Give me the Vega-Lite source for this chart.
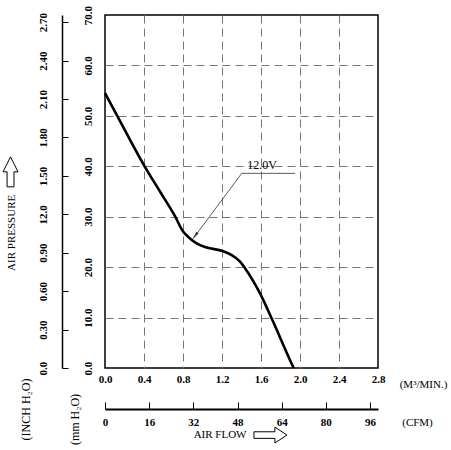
{
  "$schema": "https://vega.github.io/schema/vega-lite/v6.json",
  "width": 273,
  "height": 353,
  "autosize": "none",
  "padding": {"left": 105, "top": 15, "right": 73, "bottom": 82},
  "background": "white",
  "config": {
    "font": "Liberation Serif",
    "view": {"stroke": "black", "strokeWidth": 1.5},
    "axis": {"labelFont": "Liberation Serif", "labelFontSize": 11, "labelFontWeight": "bold", "labelColor": "black", "titleFont": "Liberation Serif", "titleFontSize": 11, "titleFontWeight": "normal", "titleColor": "black", "labelOverlap": false, "labelFlush": false}
  },
  "layer": [
    {
      "layer": [
        {
          "data": {"values": [
            {"x": 0, "y": 54.5},
            {"x": 0.12, "y": 50.2},
            {"x": 0.403, "y": 40.1},
            {"x": 0.564, "y": 35.0},
            {"x": 0.718, "y": 30.1},
            {"x": 0.803, "y": 27.0},
            {"x": 0.872, "y": 25.7},
            {"x": 0.94, "y": 24.7},
            {"x": 1.043, "y": 23.9},
            {"x": 1.207, "y": 23.2},
            {"x": 1.30, "y": 22.4},
            {"x": 1.385, "y": 21.1},
            {"x": 1.436, "y": 19.8},
            {"x": 1.59, "y": 14.8},
            {"x": 1.71, "y": 9.8},
            {"x": 1.897, "y": 1.6},
            {"x": 1.935, "y": 0}
          ]},
          "mark": {"type": "line", "color": "black", "strokeWidth": 2.6, "interpolate": "monotone"},
          "encoding": {
            "x": {"field": "x", "type": "quantitative", "scale": {"domain": [0, 2.8], "nice": false, "zero": false},
              "axis": {"orient": "bottom", "values": [0, 0.4, 0.8, 1.2, 1.6, 2.0, 2.4, 2.8], "tickCount": 8, "format": ".1f", "labelPadding": 5, "ticks": false, "domain": false,
                "grid": true, "gridDash": [8, 5], "gridColor": "#777", "gridWidth": 1,
                "gridOpacity": {"condition": {"test": "datum.value <= 0.001 || datum.value >= 2.799", "value": 0}, "value": 1},
                "title": "(M³/MIN.)", "titleX": 318, "titleY": 16, "titleAlign": "center", "titleBaseline": "middle"}},
            "y": {"field": "y", "type": "quantitative", "scale": {"domain": [0, 70], "nice": false, "zero": false},
              "axis": {"orient": "left", "values": [0, 10, 20, 30, 40, 50, 60, 70], "tickCount": 8, "format": ".1f", "labelAngle": 270, "labelAlign": "center", "labelBaseline": "middle", "labelPadding": 17, "ticks": false, "domain": false,
                "grid": true, "gridDash": [8, 5], "gridColor": "#777", "gridWidth": 1,
                "gridOpacity": {"condition": {"test": "datum.value <= 0.001 || datum.value >= 69.99", "value": 0}, "value": 1},
                "title": "(mm  H₂O)", "titleFontSize": 12, "titleAngle": 270, "titleX": -31, "titleY": 404, "titleAlign": "center", "titleBaseline": "middle"}}
          }
        },
        {
          "data": {"values": [
            {"x": 0.906, "y": 25.7, "o": 1},
            {"x": 1.402, "y": 38.6, "o": 2},
            {"x": 1.949, "y": 38.6, "o": 3}
          ]},
          "mark": {"type": "line", "color": "#333", "strokeWidth": 0.8},
          "encoding": {
            "x": {"field": "x", "type": "quantitative"},
            "y": {"field": "y", "type": "quantitative"},
            "order": {"field": "o", "type": "quantitative"}
          }
        },
        {
          "data": {"values": [{"x": 0.924, "y": 26.2}]},
          "mark": {"type": "point", "shape": "M 0 -1 L 0.35 1 L -0.35 1 Z", "size": 64, "angle": 217, "filled": true, "color": "#333", "opacity": 1},
          "encoding": {
            "x": {"field": "x", "type": "quantitative"},
            "y": {"field": "y", "type": "quantitative"}
          }
        },
        {
          "data": {"values": [{"x": 1.61, "y": 40.3, "t": "12.0V"}]},
          "mark": {"type": "text", "font": "Liberation Serif", "fontSize": 12, "color": "black", "align": "center", "baseline": "middle"},
          "encoding": {
            "x": {"field": "x", "type": "quantitative"},
            "y": {"field": "y", "type": "quantitative"},
            "text": {"field": "t"}
          }
        },
        {
          "data": {"values": [{"x": 1.18, "y": -13.3, "t": "AIR FLOW"}]},
          "mark": {"type": "text", "font": "Liberation Serif", "fontSize": 11, "color": "black", "align": "center", "baseline": "middle"},
          "encoding": {
            "x": {"field": "x", "type": "quantitative"},
            "y": {"field": "y", "type": "quantitative"},
            "text": {"field": "t"}
          }
        },
        {
          "data": {"values": [{"x": -0.954, "y": 26.8, "t": "AIR PRESSURE"}]},
          "mark": {"type": "text", "font": "Liberation Serif", "fontSize": 11, "color": "black", "align": "center", "baseline": "middle", "angle": 270},
          "encoding": {
            "x": {"field": "x", "type": "quantitative"},
            "y": {"field": "y", "type": "quantitative"},
            "text": {"field": "t"}
          }
        },
        {
          "data": {"values": [{"x": -0.969, "y": 38.9}]},
          "mark": {"type": "point", "shape": "M -0.23 1 L -0.23 0 L -0.5 0 L 0 -1 L 0.5 0 L 0.23 0 L 0.23 1 Z", "size": 900, "filled": false, "fill": "white", "stroke": "black", "strokeWidth": 1, "opacity": 1},
          "encoding": {
            "x": {"field": "x", "type": "quantitative"},
            "y": {"field": "y", "type": "quantitative"}
          }
        },
        {
          "data": {"values": [{"x": 1.697, "y": -13.3}]},
          "mark": {"type": "point", "shape": "M -1 -0.2 L 0.27 -0.2 L 0.27 -0.48 L 1 0 L 0.27 0.48 L 0.27 0.2 L -1 0.2 Z", "size": 1089, "filled": false, "fill": "white", "stroke": "black", "strokeWidth": 1, "opacity": 1},
          "encoding": {
            "x": {"field": "x", "type": "quantitative"},
            "y": {"field": "y", "type": "quantitative"}
          }
        }
      ]
    },
    {
      "data": {"values": [{"cfm": 0, "inch": 0}, {"cfm": 98.88, "inch": 2.7559}]},
      "mark": {"type": "point", "opacity": 0},
      "encoding": {
        "x": {"field": "cfm", "type": "quantitative", "scale": {"domain": [0, 98.88], "nice": false, "zero": false},
          "axis": {"orient": "bottom", "offset": 41, "values": [0, 16, 32, 48, 64, 80, 96], "tickCount": 7, "format": "d", "domain": true, "domainColor": "black", "domainWidth": 2, "ticks": true, "tickSize": -7, "tickColor": "black", "tickWidth": 1, "labelPadding": 14, "grid": false,
            "title": "(CFM)", "titleX": 312, "titleY": 13, "titleAlign": "center", "titleBaseline": "middle"}},
        "y": {"field": "inch", "type": "quantitative", "scale": {"domain": [0, 2.7559], "nice": false, "zero": false},
          "axis": {"orient": "left", "offset": 43, "values": [0, 0.3, 0.6, 0.9, 1.2, 1.5, 1.8, 2.1, 2.4, 2.7], "tickCount": 10,
            "labelExpr": "abs(datum.value - 1.2) < 0.001 ? '12.0' : (datum.value == 0 ? '0.0' : format(datum.value, '.2f'))",
            "labelAngle": 270, "labelAlign": "center", "labelBaseline": "middle", "labelPadding": 25, "domain": true, "domainColor": "black", "domainWidth": 1.5, "ticks": true, "tickSize": -6, "tickColor": "black", "tickWidth": 1, "grid": false,
            "title": "(INCH H₂O)", "titleFontSize": 12, "titleAngle": 270, "titleX": -37, "titleY": 394, "titleAlign": "center", "titleBaseline": "middle"}}
      }
    }
  ],
  "resolve": {"scale": {"x": "independent", "y": "independent"}}
}
